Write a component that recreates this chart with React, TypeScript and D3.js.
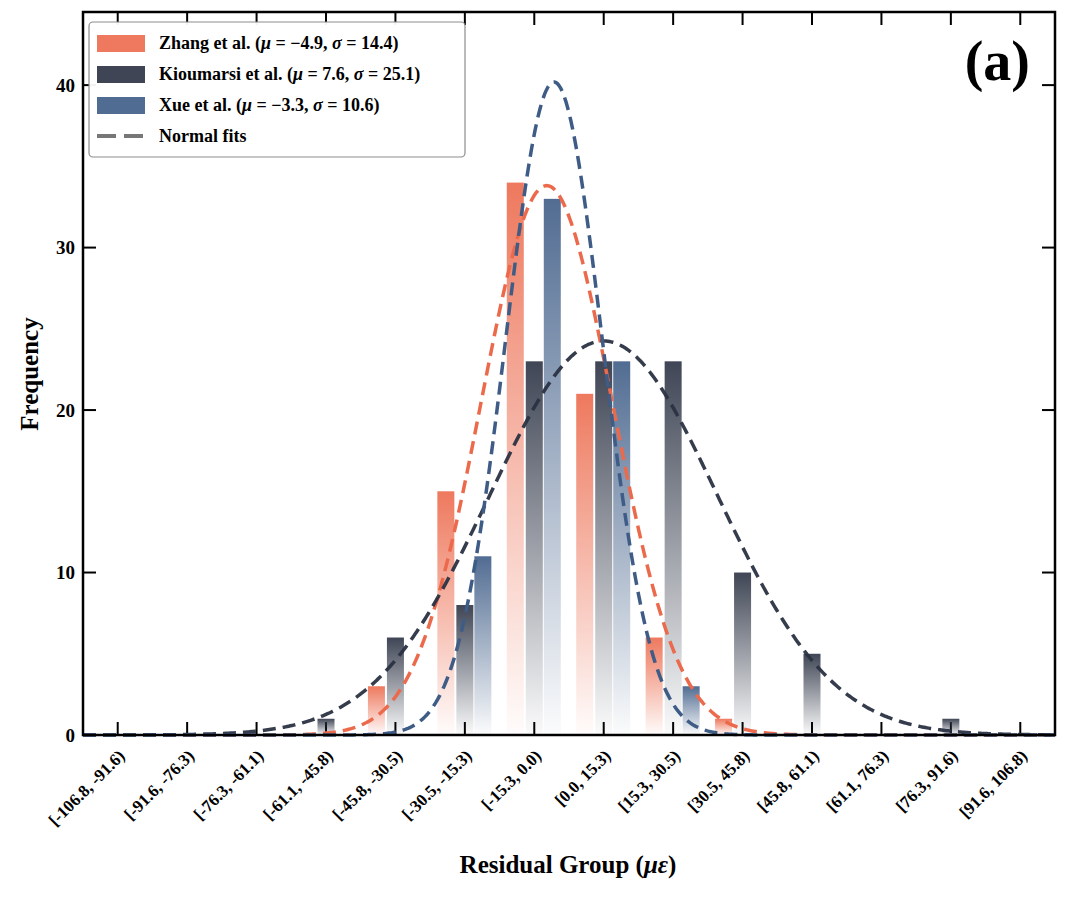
import React from "react";
import * as d3 from "d3";

const categories = ["[-106.8, -91.6)","[-91.6, -76.3)","[-76.3, -61.1)","[-61.1, -45.8)","[-45.8, -30.5)","[-30.5, -15.3)","[-15.3, 0.0)","[0.0, 15.3)","[15.3, 30.5)","[30.5, 45.8)","[45.8, 61.1)","[61.1, 76.3)","[76.3, 91.6)","[91.6, 106.8)"];
const zhang = [0,0,0,0,3,15,34,21,6,1,0,0,0,0];
const kioumarsi = [0,0,0,1,6,8,23,23,23,10,5,0,1,0];
const xue = [0,0,0,0,0,11,33,23,3,0,0,0,0,0];
const seriesNames = ["Zhang et al.", "Kioumarsi et al.", "Xue et al."];
const mus = [-4.9, 7.6, -3.3];
const sigmas = [14.4, 25.1, 10.6];
const colors = ["#ec6a4c", "#2a3142", "#3e5c86"];
const yTicks = [0, 10, 20, 30, 40];
const binWidth = 15.257;

export default function App() {
  const W = 1080, H = 897;
  const L = 83, R = 1055, T = 12, B = 735;
  const x = d3.scaleBand().domain(categories).range([L, R]);
  const xv = d3.scaleLinear().domain([-106.8, 106.8]).range([L, R]);
  const y = d3.scaleLinear().domain([0, 44.5]).range([B, T]);
  const data = [zhang, kioumarsi, xue];
  const offsets = [-19, 0, 18];
  const bw = 17;
  const font = "'Liberation Serif', 'Times New Roman', serif";
  const curves = data.map((d, i) => {
    const n = d3.sum(d);
    const pts = d3.range(0, 601).map(k => -106.8 + (213.6 * k) / 600);
    const f = (v: number) => (n * binWidth) / (sigmas[i] * Math.sqrt(2 * Math.PI)) * Math.exp(-0.5 * ((v - mus[i]) / sigmas[i]) ** 2);
    return d3.line<number>().x(v => xv(v)).y(v => y(f(v)))(pts) as string;
  });
  return (
    <svg width={W} height={H} style={{ position: "absolute", left: 0, top: 0, background: "#fff" }}>
      <defs>
        {colors.map((c, i) => (
          <linearGradient key={i} id={`g${i}`} x1="0" y1="0" x2="0" y2="1">
            <stop offset="0" stopColor={c} stopOpacity={0.9} />
            <stop offset="1" stopColor={c} stopOpacity={0.02} />
          </linearGradient>
        ))}
      </defs>
      {/* inner ticks */}
      {categories.map(c => {
        const cx = x(c)! + x.bandwidth() / 2;
        return <g key={c}>
          <line x1={cx} x2={cx} y1={B} y2={B - 13} stroke="#000" strokeWidth={2} />
          <line x1={cx} x2={cx} y1={T} y2={T + 13} stroke="#000" strokeWidth={2} />
        </g>;
      })}
      {yTicks.map(t => <g key={t}>
        <line x1={L} x2={L + 13} y1={y(t)} y2={y(t)} stroke="#000" strokeWidth={2} />
        <line x1={R} x2={R - 13} y1={y(t)} y2={y(t)} stroke="#000" strokeWidth={2} />
        <text x={L - 8} y={y(t)} dy="0.35em" textAnchor="end" fontFamily={font} fontWeight="bold" fontSize={19}>{t}</text>
      </g>)}
      {data.map((d, i) => d.map((v, j) => v > 0 ? (
        <rect key={`${i}-${j}`} x={x(categories[j])! + x.bandwidth() / 2 + offsets[i] - bw / 2} y={y(v)} width={bw} height={B - y(v)} fill={`url(#g${i})`} />
      ) : null))}
      {curves.map((p, i) => (
        <path key={i} d={p} fill="none" stroke={colors[i]} strokeWidth={3.5} strokeDasharray="13,7" opacity={i === 1 ? 0.95 : 1} />
      ))}
      <rect x={L} y={T} width={R - L} height={B - T} fill="none" stroke="#000" strokeWidth={2.5} />
      {categories.map(c => {
        const cx = x(c)! + x.bandwidth() / 2;
        return <text key={c} transform={`translate(${cx + 8},${B + 22}) rotate(-45)`} textAnchor="end" fontFamily={font} fontWeight="bold" fontSize={17}>{c}</text>;
      })}
      <text x={568} y={873} textAnchor="middle" fontFamily={font} fontWeight="bold" fontSize={25}>
        Residual Group (<tspan fontStyle="italic">με</tspan>)
      </text>
      <text transform="translate(38,374) rotate(-90)" textAnchor="middle" fontFamily={font} fontWeight="bold" fontSize={25}>Frequency</text>
      <text x={1030} y={80} textAnchor="end" fontFamily={font} fontWeight="bold" fontSize={56}>(a)</text>
      {/* legend */}
      <rect x={89} y={22} width={376} height={135} rx={4} fill="#fff" stroke="#888" strokeWidth={1.2} opacity={0.95} />
      {seriesNames.map((s, i) => (
        <g key={s} transform={`translate(97,${43 + i * 31})`}>
          <rect x={0} y={-8} width={48} height={17} fill={colors[i]} opacity={0.9} />
          <text x={62} y={0} dy="0.35em" fontFamily={font} fontWeight="bold" fontSize={18}>
            {s} (<tspan fontStyle="italic">μ</tspan> = {mus[i] < 0 ? "−" + Math.abs(mus[i]) : mus[i]}, <tspan fontStyle="italic">σ</tspan> = {sigmas[i]})
          </text>
        </g>
      ))}
      <g transform="translate(97,136)">
        <line x1={0} x2={48} y1={0} y2={0} stroke="#777" strokeWidth={4} strokeDasharray="19,8" />
        <text x={62} y={0} dy="0.35em" fontFamily={font} fontWeight="bold" fontSize={18}>Normal fits</text>
      </g>
    </svg>
  );
}
